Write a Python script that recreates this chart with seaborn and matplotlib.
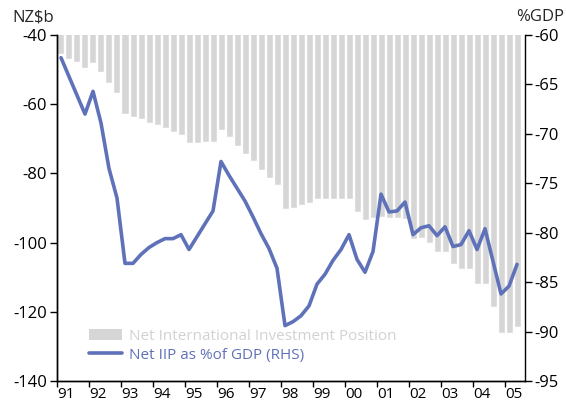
"""
New Zealand net international investment position, quarterly 1991-2005.
Bars: NZ$b (left axis), line: % of GDP (right axis).
"""

import numpy as np
import matplotlib
matplotlib.use("Agg")
import matplotlib.pyplot as plt
import seaborn as sns
from matplotlib.patches import Patch
from matplotlib.lines import Line2D

# quarterly observations 1991Q1 .. 2005Q2
quarters = [f"{y}Q{q}" for y in range(1991, 2006) for q in range(1, 5)][:58]

niip_nzb = [
    -45.5, -47.0, -47.9, -49.4, -48.1, -50.8, -53.8, -56.8,
    -62.7, -63.7, -64.4, -65.3, -66.0, -66.9, -67.9, -68.9,
    -71.2, -71.2, -71.0, -71.0, -67.4, -69.6, -72.1, -74.4,
    -76.5, -78.9, -81.2, -83.5, -90.3, -89.9, -89.2, -88.7,
    -87.5, -87.5, -87.3, -87.3, -87.3, -91.3, -93.6, -93.0,
    -92.5, -92.8, -93.0, -93.3, -99.0, -98.7, -100.2, -102.6,
    -102.6, -106.2, -107.5, -107.5, -112.1, -111.9, -118.5, -126.0,
    -126.0, -124.5,
]

niip_pct_gdp = [
    -62.3, -64.2, -66.1, -68.0, -65.7, -68.9, -73.5, -76.5,
    -83.1, -83.1, -82.2, -81.5, -81.0, -80.6, -80.6, -80.2,
    -81.7, -80.4, -79.1, -77.8, -72.8, -74.2, -75.5, -76.8,
    -78.4, -80.1, -81.6, -83.6, -89.4, -89.0, -88.4, -87.4,
    -85.2, -84.2, -82.8, -81.7, -80.2, -82.7, -84.0, -81.9,
    -76.1, -77.9, -77.8, -76.9, -80.2, -79.5, -79.3, -80.3,
    -79.4, -81.4, -81.2, -79.8, -81.7, -79.6, -82.9, -86.2,
    -85.4, -83.2,
]

year_labels = ["91", "92", "93", "94", "95", "96", "97", "98",
               "99", "00", "01", "02", "03", "04", "05"]

BAR_COLOR = "#d6d6d6"
LINE_COLOR = "#5f72b9"
LEGEND_GREY = "#d2d2d2"


def main():
    sns.set_theme(style="ticks")
    plt.rcParams["font.family"] = ["Open Sans", "DejaVu Sans"]
    plt.rcParams["axes.unicode_minus"] = False

    fig = plt.figure(figsize=(5.66, 4.05), dpi=100)
    # axes box: x 57..525 px, y 35..381 px
    ax = fig.add_axes([0.1007, 0.0593, 0.8269, 0.8543])

    pos = np.arange(len(quarters))
    sns.barplot(x=pos, y=niip_nzb, color=BAR_COLOR, saturation=1,
                width=0.875, errorbar=None, ax=ax)
    ax.set_ylim(-140, -40)
    ax.set_yticks(np.arange(-140, -39, 20))

    ax2 = ax.twinx()
    sns.lineplot(x=pos, y=niip_pct_gdp, color=LINE_COLOR, linewidth=2.6, ax=ax2)
    ax2.set_ylim(-95, -60)
    ax2.set_yticks(np.arange(-95, -59, 5))

    ax.set_xlim(-0.5, 58)
    ax.set_xticks(np.arange(len(year_labels)) * 4 - 0.5)
    ax.set_xticklabels(year_labels, ha="left")

    for a in (ax, ax2):
        a.set_xlabel("")
        a.set_ylabel("")
        a.spines["top"].set_visible(False)
        for s in a.spines.values():
            s.set_color("black")
            s.set_linewidth(1.0)
        a.tick_params(axis="y", direction="out", length=5, width=1,
                      colors="black", labelsize=12, pad=2)
    ax.spines["right"].set_visible(False)
    ax.tick_params(axis="x", direction="out", length=4, width=1,
                   colors="black", labelsize=11, pad=0)

    fig.text(0.022, 0.958, "NZ$b", fontsize=12, va="center", ha="left")
    fig.text(0.996, 0.958, "%GDP", fontsize=12, va="center", ha="right")

    handles = [
        Patch(facecolor=BAR_COLOR, edgecolor="none"),
        Line2D([0], [0], color=LINE_COLOR, linewidth=2.6),
    ]
    leg = ax2.legend(handles,
                     ["Net International Investment Position",
                      "Net IIP as %of GDP (RHS)"],
                     loc="lower left", bbox_to_anchor=(0.055, 0.035),
                     frameon=False, fontsize=11, handlelength=2.2,
                     handletextpad=0.4, labelspacing=0.25, borderaxespad=0)
    leg.get_texts()[0].set_color(LEGEND_GREY)
    leg.get_texts()[1].set_color(LINE_COLOR)

    fig.savefig("out.png", dpi=100)
    plt.close(fig)


if __name__ == "__main__":
    main()
